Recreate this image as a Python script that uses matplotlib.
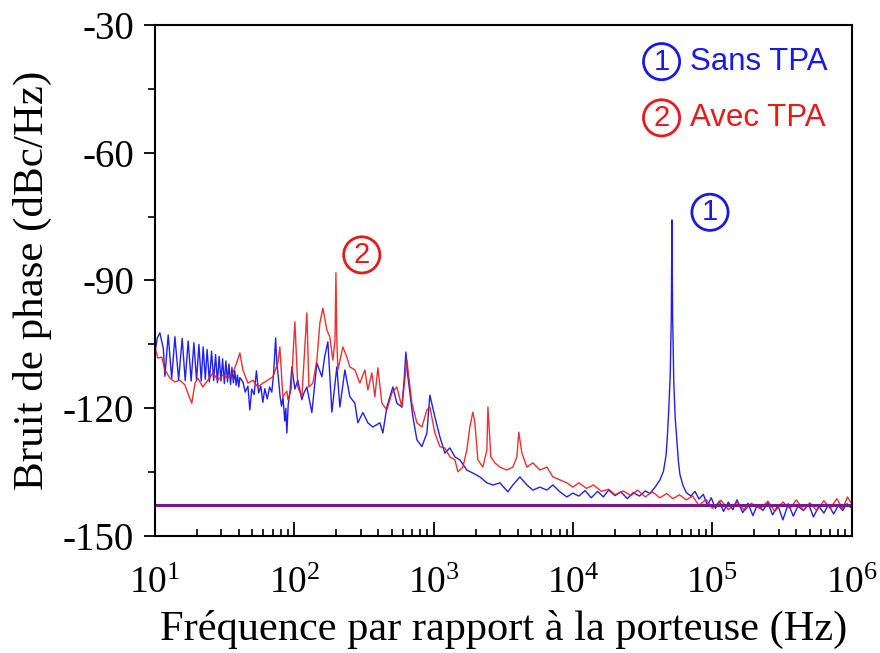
import numpy as np
import matplotlib
matplotlib.use('Agg')
import matplotlib.pyplot as plt
from matplotlib.ticker import LogLocator, MultipleLocator, NullFormatter

# phase noise (Hz, dBc/Hz)
blue_f = [10.0, 10.4, 10.86, 11.5, 11.8, 12.46, 13.2, 13.92, 14.8, 15.7, 16.5, 17.33, 18.2,
          19.05, 19.9, 20.7, 21.5, 22.2, 23.0, 23.7, 24.6, 25.5, 26.4, 27.25, 28.1, 28.9,
          29.8, 30.6, 31.5, 32.3, 33.2, 34.0, 34.9, 35.7, 36.6, 37.4, 38.3, 39.1, 40.0,
          40.7, 42.8, 44.5, 46.5, 48.0, 49.5, 51.5, 53.5, 55.5, 57.5, 59.5, 61.5, 64.0,
          66.5, 69.0, 71.0, 73.5, 75.0, 77.0, 79.0, 81.0, 83.0, 85.5, 87.0, 88.5, 90.5,
          93.0, 96.1, 101, 106, 113.4, 117, 123.1, 133.7, 145.3, 157.8, 165, 174.2, 186.1,
          202, 212.4, 230.7, 250.6, 272.1, 285.9, 310.5, 337.3, 366.4, 411.3, 432.1,
          461.6, 509.6, 544.5, 591.5, 615, 632, 650, 675, 709.3, 757.8, 823, 894, 939,
          1020, 1108, 1203, 1307, 1420, 1541, 1730, 1910, 2145, 2408, 2659, 2985, 3406,
          3700, 4154, 4664, 5147, 5779, 6489, 7165, 8044, 9029, 9968,
          11000, 12200, 13500, 15000, 16500, 18000, 20000, 22000, 24500, 27000, 30000,
          33000, 35600, 39000, 42000, 44500, 46500, 47500, 48500, 49800, 50700, 51200,
          51800, 52800, 54000, 55500, 57000, 58400, 61600, 65000, 70000, 75000, 80000,
          86000, 92000, 98000, 105000, 112000, 120000, 130000, 140000, 150000, 165000,
          180000, 195000, 210000, 230000, 250000, 270000, 295000, 320000, 350000, 380000,
          410000, 450000, 490000, 530000, 580000, 630000, 680000, 740000, 800000, 860000,
          920000, 1000000]
blue_db = [-107.0, -103.5, -102.3, -106.0, -112.5, -102.8, -113.0, -103.2, -113.3, -103.6,
           -113.5, -104.2, -113.6, -104.6, -113.4, -105.0, -113.6, -105.6, -113.2, -106.2,
           -113.8, -106.6, -113.5, -107.4, -114.0, -107.8, -113.6, -108.4, -114.2, -108.9,
           -113.8, -109.6, -114.4, -110.4, -114.0, -111.2, -114.6, -112.2, -115.0,
           -112.8, -113.8, -116.2, -114.8, -120.4, -115.5, -116.8, -111.2, -116.4, -114.8,
           -118.6, -115.4, -117.8, -115.0, -116.2, -112.0, -103.5, -109.5, -113.0, -117.0,
           -119.5, -117.5, -123.0, -120.0, -125.8, -119.0, -116.5, -110.3, -115.5, -113.4,
           -118.0, -116.5, -115.0, -121.0, -109.4, -112.6, -108.0, -104.4, -120.9, -110.3,
           -119.7, -111.0, -117.3, -118.8, -123.4, -121.0, -123.4, -124.4, -123.4, -125.8,
           -119.7, -115.0, -118.8, -119.7, -113.0, -106.8, -112.0, -116.4, -122.0, -127.4,
           -129.0, -125.8, -116.9, -122.0, -126.7, -130.5, -129.3, -131.4, -132.1, -134.5,
           -135.2, -136.1, -137.5, -138.0, -137.5, -139.6, -138.0, -136.1, -138.0, -139.2,
           -138.5, -139.2, -138.0, -139.6, -140.8, -139.9,
           -140.6, -139.3, -141.0, -139.5, -140.8, -139.2, -140.5, -139.6, -141.2, -139.8,
           -140.6, -139.4, -140.0, -138.4, -136.8, -134.8, -131.0, -126.5, -121.0, -112.0,
           -98.0, -75.8, -98.0, -114.0, -122.0, -127.5, -132.5, -135.5, -138.2, -139.8,
           -140.6, -139.5, -141.3, -140.2, -142.8, -141.0, -143.5, -141.8, -144.2, -142.0,
           -143.8, -141.5, -144.5, -142.3, -145.2, -142.6, -144.0, -142.2, -145.0, -142.8,
           -146.2, -142.4, -145.3, -143.0, -144.0, -142.5, -145.5, -143.0, -144.6, -142.6,
           -144.8, -142.8, -144.0, -142.4, -143.5]

red_f = [10.0, 10.5, 11.2, 11.8, 12.8, 13.9, 15.1, 16.4, 17.2, 18.4, 19.4, 20.3, 22.1, 24.0,
         26.1, 28.3, 30.7, 33.4, 36.3, 38.8, 40.7, 42.8, 46.5, 50.5, 54.8, 59.5, 64.7, 70.2,
         76.3, 78.8, 82.8, 88.5, 90.0, 95, 101, 106, 113.4, 123.1, 127.3, 136, 145.3, 152.6,
         160.4, 171.3, 180, 189.2, 196, 199, 202, 205.5, 223.2, 238.4, 250.6, 272.1, 295.5,
         321, 337.3, 360.4, 378.6, 397.9, 425, 461.6, 501.3, 544.5, 591.5, 642.5, 697.6,
         757.8, 823, 894, 939, 1020, 1108, 1203, 1307, 1420, 1492, 1620, 1730, 1818, 1910,
         1975, 2076, 2254, 2408, 2450, 2572, 2748, 2985, 3350, 3700, 3954, 4080, 4293, 4664,
         5147, 5779, 6489, 7165, 8044, 9029, 9968,
         11000, 12500, 14000, 16000, 18000, 20000, 23000, 26000, 29000, 33000, 37000,
         42000, 47000, 52000, 58000, 65000, 72000, 80000, 90000, 100000, 115000, 130000,
         150000, 170000, 190000, 220000, 250000, 280000, 320000, 360000, 400000, 450000,
         500000, 560000, 630000, 700000, 780000, 860000, 930000, 1000000]
red_db = [-105.5, -108.2, -108.0, -111.0, -112.9, -113.8, -113.4, -114.5, -116.4, -118.8,
          -114.1, -112.9, -115.0, -113.4, -111.7, -113.4, -112.2, -112.9, -111.7, -109.1,
          -107.0, -111.0, -114.1, -113.4, -115.0, -114.1, -113.4, -112.6, -109.4, -105.6,
          -117.3, -116.0, -118.0, -115.5, -99.7, -115.0, -117.3, -97.6, -115.0, -114.1,
          -108.7, -100.0, -96.5, -101.6, -103.3, -108.7, -104.0, -88.2, -104.0, -111.0,
          -105.6, -108.0, -110.3, -111.0, -114.1, -111.0, -115.7, -111.7, -117.3, -110.5,
          -118.8, -120.4, -116.4, -115.0, -119.7, -108.7, -118.8, -123.4, -124.4, -120.4,
          -119.7, -125.8, -129.0, -129.3, -131.4, -132.1, -134.9, -133.8, -129.8, -124.4,
          -120.9, -123.4, -132.1, -133.8, -129.8, -119.7, -131.4, -132.8, -133.8, -134.5,
          -133.8, -131.4, -125.6, -130.5, -133.8, -132.8, -134.5, -133.8, -136.1, -136.8,
          -137.5, -138.5,
          -137.5, -138.8, -138.0, -139.5, -139.0, -140.3, -139.4, -140.5, -139.2, -140.8,
          -139.6, -141.0, -140.0, -141.2, -140.3, -141.5, -140.6, -142.8, -141.4, -143.5,
          -141.6, -143.8, -142.0, -144.0, -142.3, -143.6, -141.8, -144.2, -142.0, -143.5,
          -141.5, -143.9, -142.2, -144.0, -141.7, -143.5, -141.2, -143.6, -140.8, -142.5]

floor_f = [10, 1e6]
floor_db = [-142.6, -142.6]

plt.rcParams['font.family'] = ['Liberation Serif', 'DejaVu Serif']
plt.rcParams['axes.unicode_minus'] = False

fig = plt.figure(figsize=(8.8, 6.53), dpi=100)
ax = fig.add_axes([0.176, 0.179, 0.792, 0.783])

ax.plot(blue_f, blue_db, color='#2020f0', lw=1.0)
ax.plot(red_f, red_db, color='#f01818', lw=1.0, alpha=0.9)
ax.plot(floor_f, floor_db, color='#7a1890', lw=2.2)

ax.set_xscale('log')
ax.set_xlim(10, 1e6)
ax.set_ylim(-150, -30)
ax.yaxis.set_major_locator(MultipleLocator(30))
ax.yaxis.set_minor_locator(MultipleLocator(15))
ax.xaxis.set_minor_locator(LogLocator(base=10, subs=np.arange(2, 10)))
ax.xaxis.set_minor_formatter(NullFormatter())

ax.tick_params(axis='y', which='major', direction='out', length=8, width=1.3, labelsize=28, pad=7)
ax.tick_params(axis='y', which='minor', direction='out', length=5, width=1.2)
ax.tick_params(axis='x', which='major', direction='in', length=10, width=1.3, labelsize=27, pad=22)
ax.tick_params(axis='x', which='minor', direction='in', length=5, width=1.2)
for s in ax.spines.values():
    s.set_linewidth(1.5)

ax.set_xlabel('Fréquence par rapport à la porteuse (Hz)', fontsize=30.5)
ax.set_ylabel('Bruit de phase (dBc/Hz)', fontsize=31)
ax.xaxis.set_label_coords(0.5, -0.145)
ax.yaxis.set_label_coords(-0.147, 0.5)

# circled markers
sans = ['Liberation Sans', 'DejaVu Sans']
def circled(x, y, s, c, trans):
    ax.text(x, y, s, color=c, fontsize=21, family=sans, ha='center', va='center',
            transform=trans,
            bbox=dict(boxstyle='circle,pad=0.14', fc='none', ec=c, lw=2))

circled(96000, -74.0, '1', '#1a1ae6', ax.transData)
circled(305, -84.0, '2', '#e61a1a', ax.transData)
circled(0.727, 0.928, '1', '#1a1ae6', ax.transAxes)
circled(0.727, 0.818, '2', '#e61a1a', ax.transAxes)
ax.text(0.768, 0.928, 'Sans TPA', color='#1a1ae6', fontsize=22.5, family=sans,
        va='center', transform=ax.transAxes)
ax.text(0.768, 0.818, 'Avec TPA', color='#e61a1a', fontsize=22.5, family=sans,
        va='center', transform=ax.transAxes)

fig.savefig('out.png', dpi=100)
